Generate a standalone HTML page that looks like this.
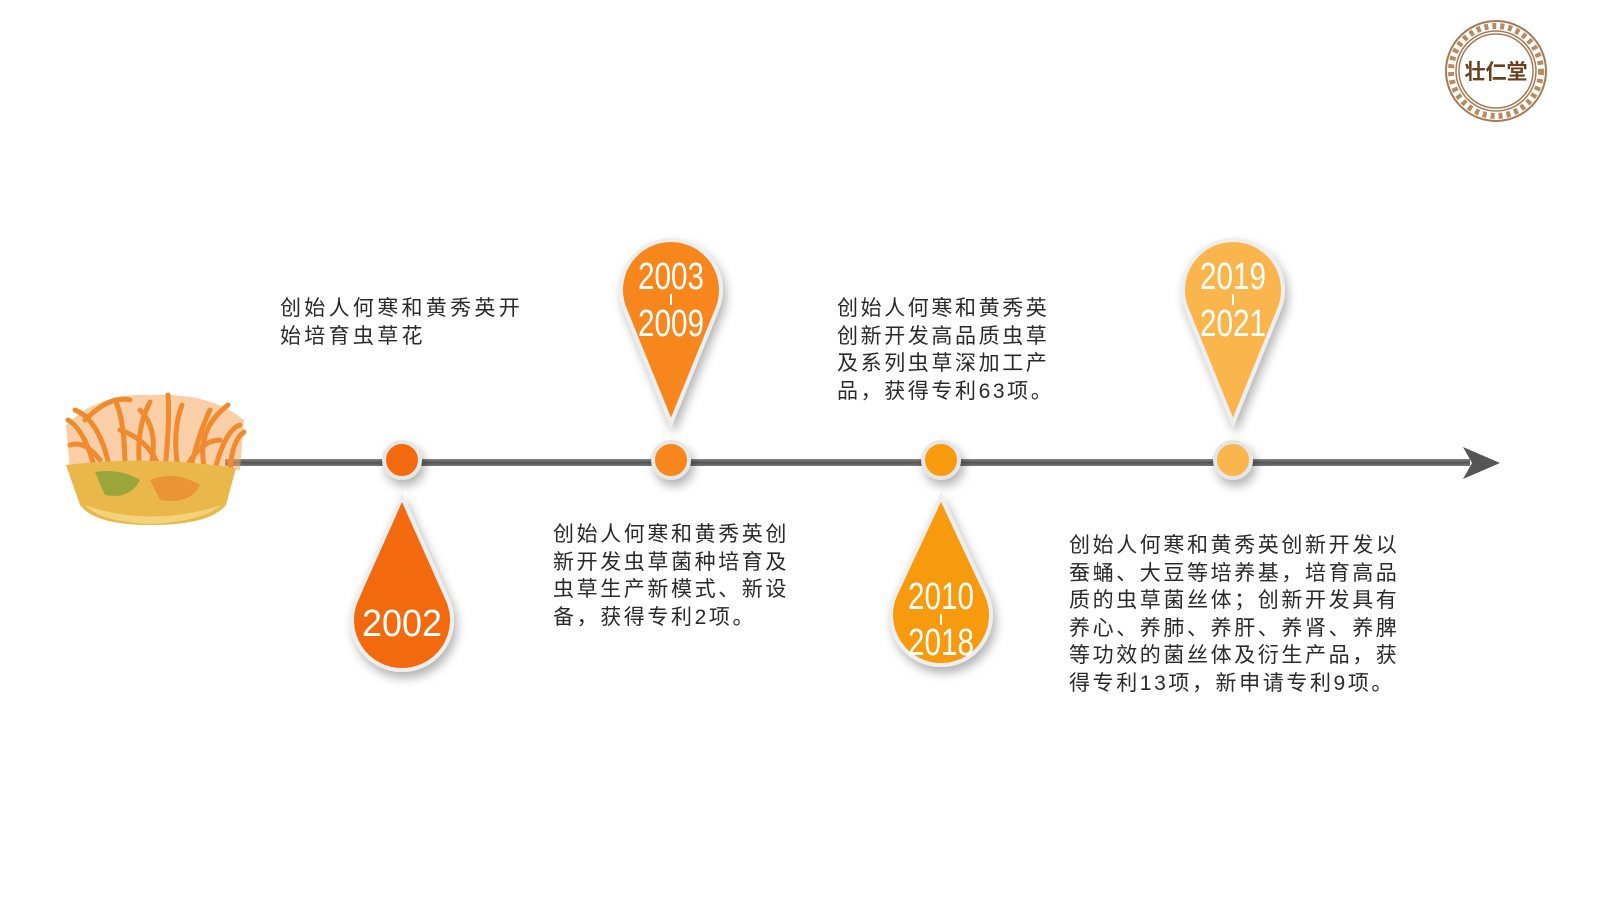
<!DOCTYPE html>
<html><head><meta charset="utf-8"><style>
body{margin:0;width:1600px;height:900px;background:#fff;overflow:hidden;position:relative;font-family:"Liberation Sans","Noto Sans CJK SC",sans-serif}
.t{position:absolute;font-size:21px;line-height:27.5px;color:#2a2a2a;letter-spacing:2.6px;white-space:nowrap}
svg{position:absolute;left:0;top:0}
</style></head><body>
<svg width="1600" height="900" viewBox="0 0 1600 900">
<defs>
<filter id="sh" x="-50%" y="-50%" width="200%" height="200%"><feDropShadow dx="3" dy="6" stdDeviation="5" flood-color="#000" flood-opacity="0.3"/></filter>
<linearGradient id="ln" x1="0" y1="0" x2="0" y2="1"><stop offset="0" stop-color="#888"/><stop offset="0.5" stop-color="#555"/><stop offset="1" stop-color="#777"/></linearGradient>
</defs>
<rect x="225" y="459" width="1245" height="7" fill="url(#ln)"/>
<path d="M1463 447 L1500 463 L1463 479 L1472 463 Z" fill="#555"/>
<!-- cordyceps -->
<path d="M66 425 Q100 392 150 395 Q210 392 244 420 L240 470 L70 470 Z" fill="#f5a860" opacity="0.55"/>
<g stroke="#f08a2c" stroke-width="5" stroke-linecap="round" fill="none">
<path d="M85 420 Q110 395 130 400"/><path d="M95 470 Q85 430 68 420"/><path d="M110 470 Q100 420 75 410"/>
<path d="M125 470 Q125 420 115 400"/><path d="M140 470 Q135 430 150 402"/><path d="M150 470 Q160 430 140 410"/>
<path d="M165 470 Q170 420 168 395"/><path d="M178 470 Q172 430 182 405"/><path d="M190 470 Q200 430 210 410"/>
<path d="M205 470 Q195 430 228 405"/><path d="M215 470 Q225 430 240 425"/><path d="M100 460 Q85 440 70 445"/>
<path d="M230 470 Q232 440 244 432"/><path d="M160 470 Q150 440 120 430"/><path d="M185 470 Q200 440 220 440"/>
</g>
<path d="M66 465 Q150 455 236 468 L226 505 Q210 525 150 525 Q95 525 80 505 Z" fill="#e9b74a"/>
<path d="M95 472 Q120 468 140 480 Q130 500 105 495 Z" fill="#9aa53a"/>
<path d="M150 480 Q175 470 200 485 Q190 505 160 500 Z" fill="#e8842e" opacity="0.7"/>
<path d="M85 505 Q150 528 222 505 Q200 522 150 524 Q100 522 85 505Z" fill="#f3d27a"/>
<g stroke="#e6e6e6" stroke-width="4" filter="url(#sh)">
<circle cx="402" cy="460" r="18" fill="#f26a10"/>
<circle cx="671" cy="460" r="18" fill="#f7861c"/>
<circle cx="941" cy="460" r="18" fill="#f89a10"/>
<circle cx="1233" cy="460" r="18" fill="#fbb54e"/>
</g>
<g stroke="#eee" stroke-width="4" filter="url(#sh)">
<path d="M402 497 L447.8 600 A50 50 0 1 1 356.2 600 Z" fill="#f26a10"/>
<path d="M671 423 L716.8 310 A50 50 0 1 0 625.2 310 Z" fill="#f7861c"/>
<path d="M941 497 L986.8 595 A50 50 0 1 1 895.2 595 Z" fill="#f89a10"/>
<path d="M1233 423 L1278.8 310 A50 50 0 1 0 1187.2 310 Z" fill="#fbb54e"/>
</g>
<g fill="#fff" font-family="Liberation Sans Narrow, Liberation Sans, sans-serif" font-size="38" text-anchor="middle">
<text x="402" y="636" textLength="80" lengthAdjust="spacingAndGlyphs">2002</text>
<text x="671" y="289" textLength="66" lengthAdjust="spacingAndGlyphs">2003</text>
<text x="671" y="336" textLength="66" lengthAdjust="spacingAndGlyphs">2009</text>
<text x="941" y="609" textLength="66" lengthAdjust="spacingAndGlyphs">2010</text>
<text x="941" y="655" textLength="66" lengthAdjust="spacingAndGlyphs">2018</text>
<text x="1233" y="289" textLength="66" lengthAdjust="spacingAndGlyphs">2019</text>
<text x="1233" y="336" textLength="66" lengthAdjust="spacingAndGlyphs">2021</text>
</g>
<g stroke="#fff" stroke-width="2">
<line x1="671" y1="294" x2="671" y2="305"/><line x1="941" y1="614" x2="941" y2="625"/><line x1="1233" y1="294" x2="1233" y2="305"/>
</g>
<circle cx="1496" cy="71" r="50" fill="#fff" stroke="#a67a52" stroke-width="2"/>
<circle cx="1496" cy="71" r="45" fill="none" stroke="#b88a60" stroke-width="6" stroke-dasharray="4 4"/>
<circle cx="1496" cy="71" r="40" fill="none" stroke="#a67a52" stroke-width="1.5"/>
<circle cx="1496" cy="71" r="37" fill="#fff" stroke="#a67a52" stroke-width="1.5"/>
<text x="1496" y="79" text-anchor="middle" font-family="Noto Sans CJK SC, sans-serif" font-weight="bold" font-size="21" fill="#6b3f1c">壮仁堂</text>
</svg>
<div class="t" style="left:280px;top:295px;letter-spacing:3.3px">创始人何寒和黄秀英开<br>始培育虫草花</div>
<div class="t" style="left:553px;top:521px">创始人何寒和黄秀英创<br>新开发虫草菌种培育及<br>虫草生产新模式、新设<br>备，获得专利2项。</div>
<div class="t" style="left:837px;top:295px">创始人何寒和黄秀英<br>创新开发高品质虫草<br>及系列虫草深加工产<br>品，获得专利63项。</div>
<div class="t" style="left:1069px;top:532px">创始人何寒和黄秀英创新开发以<br>蚕蛹、大豆等培养基，培育高品<br>质的虫草菌丝体；创新开发具有<br>养心、养肺、养肝、养肾、养脾<br>等功效的菌丝体及衍生产品，获<br>得专利13项，新申请专利9项。</div>
</body></html>
